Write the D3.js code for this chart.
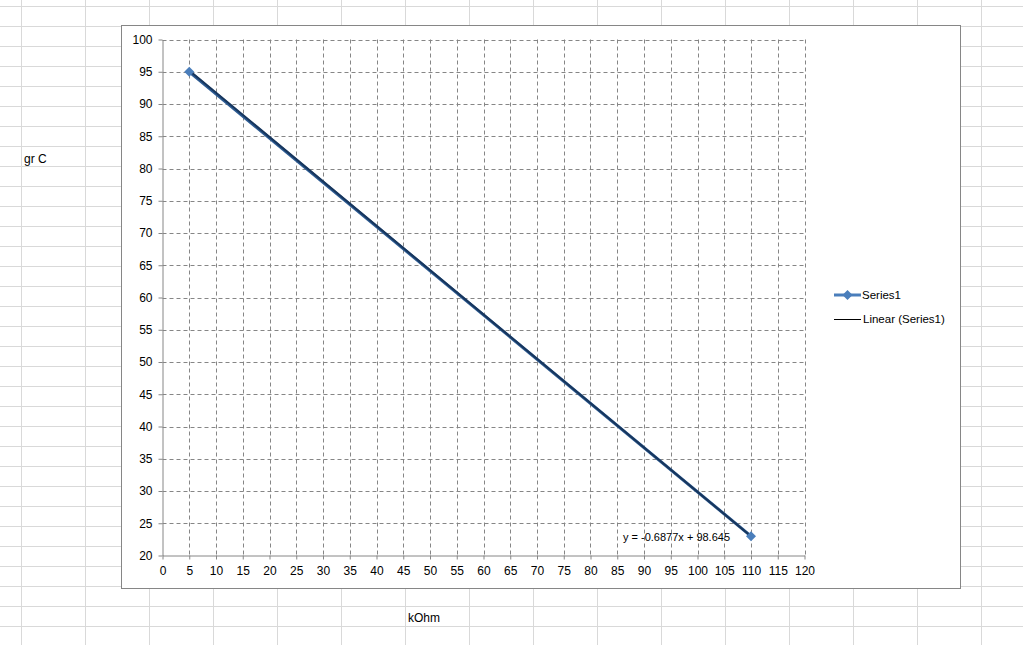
<!DOCTYPE html>
<html><head><meta charset="utf-8">
<script src="https://cdn.jsdelivr.net/npm/d3@7"></script>
<style>html,body{margin:0;padding:0;background:#fff;overflow:hidden}svg{display:block}</style>
</head><body>
<svg id="c" width="1023" height="645"></svg>
<script>
const xValues = [5, 110];
const yValues = [95, 23];
const seriesName = "Series1";
const trendName = "Linear (Series1)";
const trendSlope = -0.6877;
const trendIntercept = 98.645;
const trendLabel = "y = -0.6877x + 98.645";
const xTicks = d3.range(0, 121, 5);
const yTicks = d3.range(20, 101, 5);
const xTitle = "kOhm";
const yTitle = "gr C";

const svg = d3.select("#c");
const W = 1023, H = 645;
const font = "'Liberation Sans', Arial, sans-serif";

// spreadsheet background grid
const bg = svg.append("g");
for (let x = 21; x < W; x += 64) bg.append("line").attr("x1", x + 0.5).attr("x2", x + 0.5).attr("y1", 0).attr("y2", H).attr("stroke", "#d9d9d9");
for (let y = 6; y < H; y += 20) bg.append("line").attr("y1", y + 0.5).attr("y2", y + 0.5).attr("x1", 0).attr("x2", W).attr("stroke", "#d9d9d9");

// cell texts
svg.append("text").attr("x", 24).attr("y", 163).attr("font-family", font).attr("font-size", 12).attr("fill", "#000").text(yTitle);
svg.append("text").attr("x", 408).attr("y", 622).attr("font-family", font).attr("font-size", 12).attr("fill", "#000").text(xTitle);

// chart box
svg.append("rect").attr("x", 121.5).attr("y", 25.5).attr("width", 839).attr("height", 563).attr("fill", "#fff").attr("stroke", "#868686");

const x = d3.scaleLinear().domain([0, 120]).range([162.5, 804.5]);
const y = d3.scaleLinear().domain([20, 100]).range([555.5, 39.5]);

// gridlines
const grid = svg.append("g");
grid.selectAll(".gx").data(xTicks.filter(d => d > 0)).join("line")
  .attr("x1", d => Math.round(x(d)) + 0.5).attr("x2", d => Math.round(x(d)) + 0.5)
  .attr("y1", y(100)).attr("y2", y(20))
  .attr("stroke", "#868686").attr("stroke-dasharray", "4,3");
grid.selectAll(".gy").data(yTicks.filter(d => d > 20)).join("line")
  .attr("y1", d => Math.round(y(d)) + 0.5).attr("y2", d => Math.round(y(d)) + 0.5)
  .attr("x1", x(0)).attr("x2", x(120))
  .attr("stroke", "#868686").attr("stroke-dasharray", "4,3");

// axes
const xAxis = svg.append("g").attr("transform", `translate(0,${y(20)})`)
  .call(d3.axisBottom(x).tickValues(xTicks).tickSize(4).tickSizeOuter(0).tickPadding(7));
const yAxis = svg.append("g").attr("transform", `translate(${x(0)},0)`)
  .call(d3.axisLeft(y).tickValues(yTicks).tickSize(4).tickSizeOuter(0).tickPadding(6));
[xAxis, yAxis].forEach(a => {
  a.select(".domain").attr("stroke", "#868686");
  a.selectAll(".tick line").attr("stroke", "#868686");
  a.selectAll(".tick text").attr("font-family", font).attr("font-size", 12).attr("fill", "#000");
});

// series line
const pts = xValues.map((v, i) => [v, yValues[i]]);
const line = d3.line().x(d => x(d[0])).y(d => y(d[1]));
svg.append("path").datum(pts).attr("d", line).attr("fill", "none").attr("stroke", "#2c5a91").attr("stroke-width", 3);
// trendline
const tx = d3.extent(xValues);
const tpts = tx.map(v => [v, trendSlope * v + trendIntercept]);
svg.append("path").datum(tpts).attr("d", line).attr("fill", "none").attr("stroke", "#17365d").attr("stroke-width", 2);

// markers (square rotated 45°)
const sq = d3.symbol().type(d3.symbolSquare).size(50);
svg.selectAll(".m").data(pts).join("path")
  .attr("transform", d => `translate(${x(d[0])},${y(d[1])}) rotate(45)`)
  .attr("d", sq).attr("fill", "#4a7ebb");

// trend label
svg.append("text").attr("x", 623).attr("y", 541).attr("font-family", font).attr("font-size", 11).attr("fill", "#000").text(trendLabel);

// legend
const lg = svg.append("g");
lg.append("line").attr("x1", 834).attr("x2", 861).attr("y1", 295).attr("y2", 295).attr("stroke", "#4a7ebb").attr("stroke-width", 3);
lg.append("path").attr("transform", "translate(847.5,295) rotate(45)").attr("d", sq).attr("fill", "#4a7ebb");
lg.append("text").attr("x", 862).attr("y", 299).attr("font-family", font).attr("font-size", 11.5).attr("fill", "#000").text(seriesName);
lg.append("line").attr("x1", 834).attr("x2", 861).attr("y1", 319.5).attr("y2", 319.5).attr("stroke", "#000").attr("stroke-width", 1);
lg.append("text").attr("x", 863).attr("y", 323).attr("font-family", font).attr("font-size", 11.5).attr("fill", "#000").text(trendName);
</script>
</body></html>
